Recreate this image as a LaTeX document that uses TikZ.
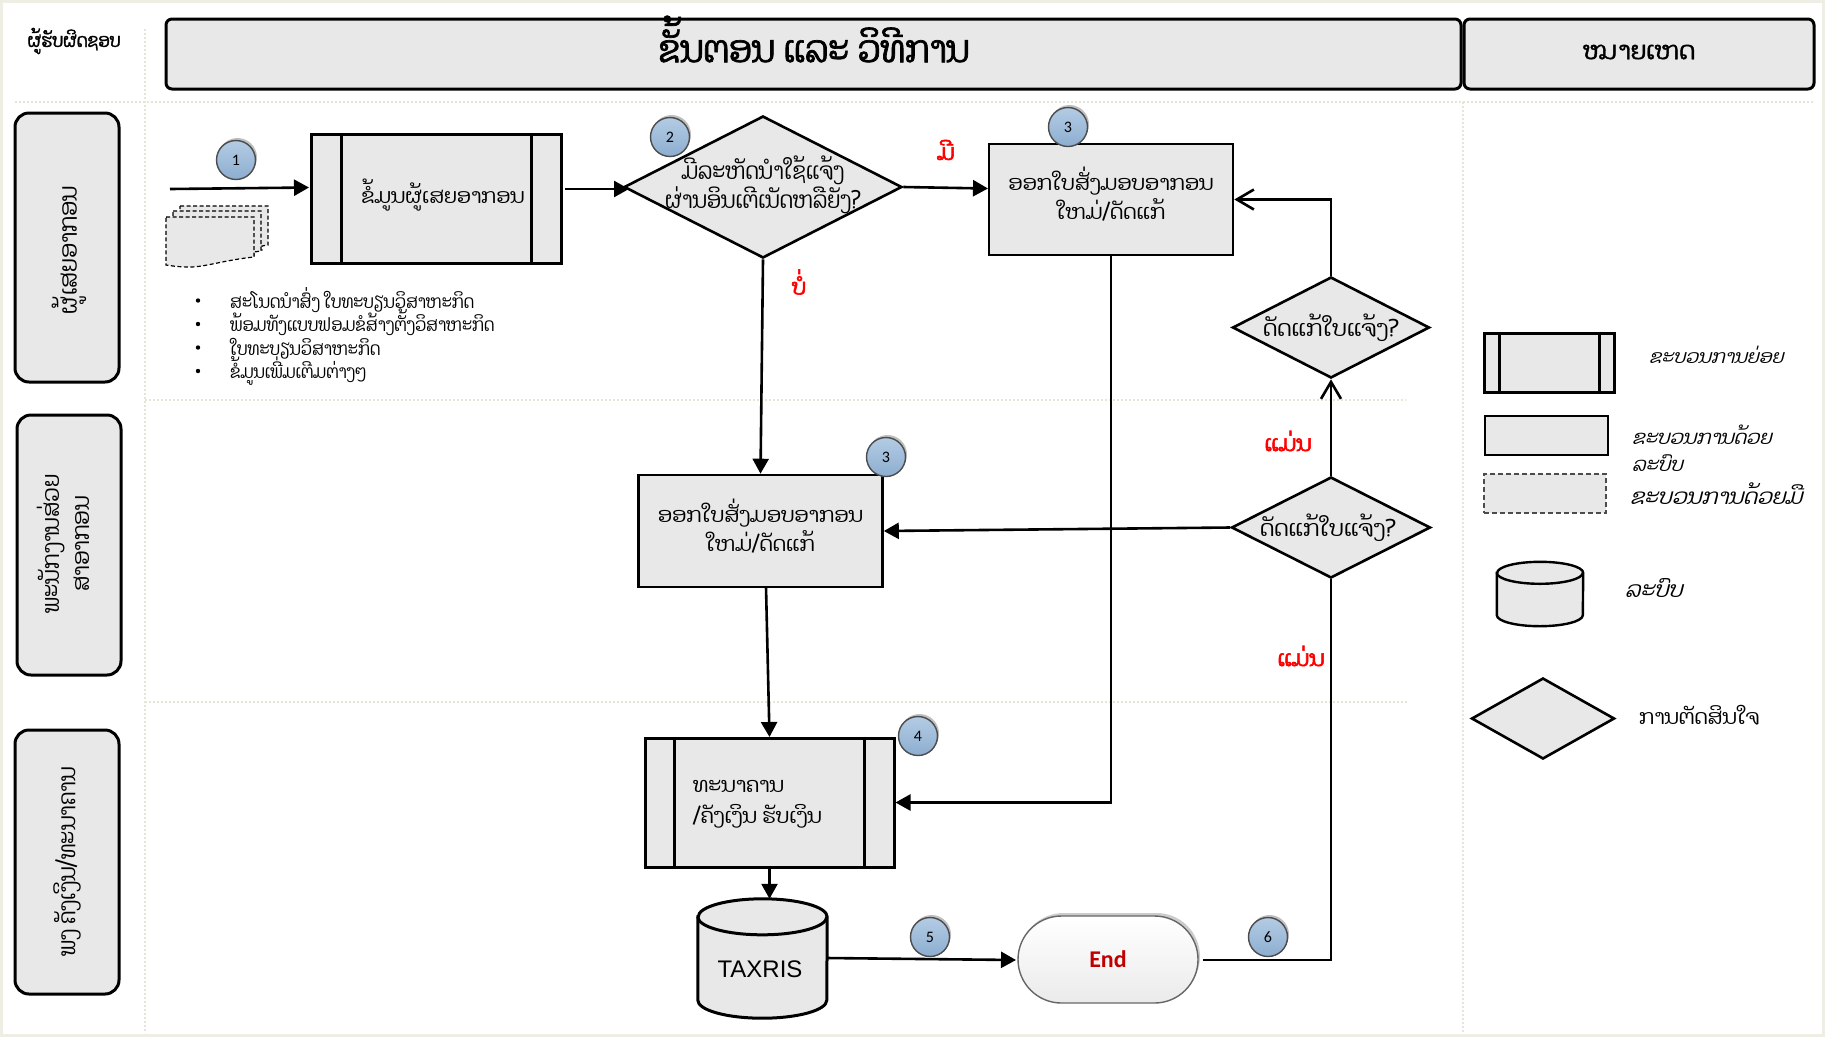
\documentclass[tikz,border=0pt]{standalone}
\usepackage{fontspec}
\setmainfont[Script=Lao]{Dhyana}
\newfontfamily\laon[Script=Lao,FakeStretch=0.88]{Dhyana}
\newfontfamily\laoit[Script=Lao,FakeSlant=0.25]{Dhyana}
\newfontfamily\laobf[Script=Lao,FakeBold=1.5]{Dhyana}
\newfontfamily\laobn[Script=Lao,FakeBold=1.8,FakeStretch=0.88]{Dhyana}
\newfontfamily\laored[Script=Lao,FakeBold=2.6]{Dhyana}
\newfontfamily\lat{Liberation Sans}
\newfontfamily\carl{Carlito}
\usetikzlibrary{arrows.meta,shapes.geometric,shapes.misc,shadows,calc}
\definecolor{boxfill}{HTML}{E8E8E8}
\definecolor{frameC}{HTML}{EFEEE4}
\definecolor{gridC}{HTML}{E6E6D8}
\definecolor{numA}{HTML}{B4CCE4}
\definecolor{numB}{HTML}{8CADD0}
\definecolor{endred}{HTML}{C00000}
\newcommand{\fs}[2]{\fontsize{#1}{#2}\selectfont}
% #1 node name, #2 rim height, #3 half width (pt), #4 line width
\newcommand{\drumshape}[4]{%
 \draw[draw=black,fill=boxfill,line width=#4]
   ($(#1.north west)+(0,#2)$) -- ($(#1.south west)+(0,-#2)$)
   arc[start angle=180,end angle=360,x radius=#3pt,y radius=#2pt]
   -- ($(#1.north east)+(0,#2)$)
   arc[start angle=0,end angle=180,x radius=#3pt,y radius=#2pt] -- cycle;
 \draw[line width=#4] ($(#1.north west)+(0,#2)$)
   arc[start angle=180,end angle=360,x radius=#3pt,y radius=#2pt];
}
\tikzset{
 base/.style={draw=black,fill=boxfill,line width=2.6,inner sep=0,align=center},
 head/.style={base,rounded corners=6,line width=3},
 lane/.style={base,rounded corners=14,line width=3},
 lanetext/.style={rotate=90,inner sep=0,align=center},
 procbox/.style={base},
 subproc/.style={base,line width=3},
 decide/.style={base,diamond},
 drum/.style={inner sep=0},
 boxtext/.style={inner sep=0,align=center},
 numdot/.style={circle,draw=black!70,line width=1.4,top color=numA,bottom color=numB,inner sep=0,minimum size=39,font=\carl\fs{16}{18},drop shadow={shadow xshift=1.5,shadow yshift=-2.5,opacity=.25,fill=black}},
 redtag/.style={text=red,font=\laored\fs{22}{24},inner sep=0},
 legtext/.style={font=\laoit\fs{20}{27},inner sep=0,anchor=west,align=left},
 plaintext/.style={inner sep=0,anchor=base west},
 flow/.style={line width=2.6,-{Triangle[width=16,length=15]}},
 openflow/.style={line width=2.6,-{Straight Barb[length=17,width=20,line width=2.6]}},
 plainflow/.style={line width=2.6},
 grid/.style={draw=gridC,line width=2,dash pattern=on 2 off 2},
 paper/.style={draw=black,fill=boxfill,line width=1.2,dash pattern=on 4 off 2.5},
}
\begin{document}
\begin{tikzpicture}[x=1pt,y=-1pt]
\useasboundingbox (0,0) rectangle (1825,1037);
\fill[white] (0,0) rectangle (1825,1037);
\draw[frameC,line width=3] (1.5,1.5) rectangle (1823.5,1035.5);
% grid
\draw[grid] (15,102) -- (1814,102);
\draw[grid] (145,29) -- (145,1033);
\draw[grid] (1463,102) -- (1463,1033);
\draw[grid] (145,400) -- (1406,400);
\draw[grid] (145,702) -- (1408,702);
% header
\node[boxtext,font=\laobn\fs{19}{22}] (resp) at (74,41) {ຜູ້ຮັບຜິດຊອບ};
\node[head,minimum width=1295,minimum height=70] (title) at (813.5,54) {};
\node[boxtext,font=\laobn\fs{38}{42}] (titlet) at (814,39) {ຂັ້ນຕອນ ແລະ ວິທີການ};
\node[head,minimum width=350,minimum height=70] (note) at (1639,54) {};
\node[boxtext,font=\laobf\fs{25}{28}] (notet) at (1639,52) {ໝາຍເຫດ};
% lanes
\node[lane,minimum height=269,minimum width=104] (lane1) at (67,247.5) {};
\node[lanetext,font=\laon\fs{25}{30}] (lane1t) at (69,250) {ຜູ້ເສຍອາກອນ};
\node[lane,minimum height=260,minimum width=104] (lane2) at (69,545) {};
\node[lanetext,font=\laon\fs{24}{30}] (lane2t) at (63,544) {ພະນັກງານສ່ວຍ\\ສາອາກອນ};
\node[lane,minimum height=264,minimum width=104] (lane3) at (67,862) {};
\node[lanetext,font=\laon\fs{24}{30}] (lane3t) at (67,862) {ພງ ຄັງເງິນ/ທະນາຄານ};
% papers
\draw[paper] (180,206) -- (268,206) -- (268,245) -- (262,246) -- (262,250) -- (180,250) -- cycle;
\draw[paper] (173,211) -- (261,211) -- (261,251) -- (254,252) -- (254,256) -- (173,256) -- cycle;
\draw[paper] (166,217) -- (254,217) -- (254,257) .. controls (225,260) and (205,267) .. (190,267) .. controls (180,267) and (172,266) .. (166,265) -- cycle;
% process
\node[subproc,minimum width=250,minimum height=129] (p1) at (436,198.5) {};
\draw[line width=3] ([xshift=32]p1.north west) -- ([xshift=32]p1.south west);
\draw[line width=3] ([xshift=-31]p1.north east) -- ([xshift=-31]p1.south east);
\node[boxtext,font=\fs{20.5}{29}] (p1t) at ($(p1)+(7,-3)$) {ຂໍ້ມູນຜູ້ເສຍອາກອນ};
\node[decide,minimum width=278,minimum height=142] (d2) at (763,187) {};
\node[boxtext,font=\laon\fs{23.5}{29}] (d2t) at (763,185) {ມີລະຫັດນຳໃຊ້ແຈ້ງ\\ຜ່ານອິນເຕີເນັດຫລືຍັງ?};
\node[procbox,minimum width=244,minimum height=111] (b3a) at (1111,199.5) {};
\node[boxtext,font=\fs{20.8}{29}] (b3at) at ($(b3a)+(0,-5)$) {ອອກໃບສັ່ງມອບອາກອນ\\ໃຫມ່/ດັດແກ້};
\node[procbox,minimum width=244,minimum height=112] (b3b) at (760.5,531) {};
\node[boxtext,font=\fs{20.8}{29}] (b3bt) at ($(b3b)+(0,-5)$) {ອອກໃບສັ່ງມອບອາກອນ\\ໃຫມ່/ດັດແກ້};
\node[decide,minimum width=197,minimum height=101] (d5) at (1331,327.5) {};
\node[boxtext,font=\fs{22.4}{29}] (d5t) at (d5) {ດັດແກ້ໃບແຈ້ງ?};
\node[decide,minimum width=199,minimum height=101] (d6) at (1331,527.5) {};
\node[boxtext,font=\fs{22.4}{29}] (d6t) at ($(d6)+(-3,0)$) {ດັດແກ້ໃບແຈ້ງ?};
\node[subproc,minimum width=249,minimum height=129] (p4) at (769.5,802.5) {};
\draw[line width=3] ([xshift=31]p4.north west) -- ([xshift=31]p4.south west);
\draw[line width=3] ([xshift=-31]p4.north east) -- ([xshift=-31]p4.south east);
\node[boxtext,align=left,anchor=west,font=\fs{20.8}{29}] (p4t) at (693,804) {ທະນາຄານ\\[2pt]/ຄັງເງິນ ຮັບເງິນ};
\node[drum,minimum width=129,minimum height=119] (db) at (762.5,958.5) {};
\drumshape{db}{18}{64.5}{3}
\node[boxtext,font=\lat\fs{24}{28}] (dbt) at (760,969) {TAXRIS};
\node[rounded rectangle,draw=black!60,line width=1.4,top color=white,bottom color=black!8,minimum width=180,minimum height=87,inner sep=0,text=endred,font=\carl\bfseries\fs{24}{28},drop shadow={shadow xshift=2,shadow yshift=-3,opacity=.2,fill=black}] (endn) at (1108,959.5) {End};
% connectors
\coordinate (s0) at (170,189);
\coordinate (e0) at (309,187.5);
\draw[flow] (s0) -- (e0);
\coordinate (s1) at (565,189);
\coordinate (e1) at (629,189);
\draw[flow] (s1) -- (e1);
\coordinate (e2) at (988,188.5);
\draw[flow] (d2.east) -- (e2);
\draw[flow] (d2.south) -- (b3b.north);
\draw[flow] (b3a.south) |- (p4.east);
\coordinate (s3) at (766,587);
\coordinate (e3) at (769.5,737);
\draw[flow] (s3) -- (e3);
\draw[flow] (p4.south) -- (p4.south |- db.north);
\coordinate (s5) at (827,958);
\coordinate (e5) at (1016,960);
\draw[flow] (s5) -- (e5);
\coordinate (s6) at (1203,960);
\draw[plainflow] (s6) -| (d6.south);
\draw[flow] (d6.west) -- (b3b.east);
\draw[openflow] (d6.north) -- (d5.south);
\draw[openflow] (d5.north) |- (b3a.east);
% numbers
\node[numdot] (n1) at (236,160) {1};
\node[numdot] (n2) at (670,137) {2};
\node[numdot] (n3a) at (1068,127) {3};
\node[numdot] (n3b) at (886,457) {3};
\node[numdot] (n4) at (918,736) {4};
\node[numdot] (n5) at (930,937) {5};
\node[numdot] (n6) at (1268,937) {6};
% red tags
\node[redtag] (t1) at (946,150) {ມີ};
\node[redtag] (t2) at (799,282) {ບໍ່};
\node[redtag] (t3) at (1288,441) {ແມ່ນ};
\node[redtag] (t4) at (1301,656) {ແມ່ນ};
% bullets
\foreach \yy/\tt in {308/ສະໂນດນຳສົ່ງ ໃບທະບຽນວິສາຫະກິດ,331.5/ພ້ອມທັງແບບຟອມຂໍສ້າງຕັ້ງວິສາຫະກິດ,355/ໃບທະບຽນວິສາຫະກິດ,378.5/ຂໍ້ມູນເພີ່ມເຕີມຕ່າງໆ}{
 \fill (198,\yy-7.5) circle (2.2);
 \node[plaintext,font=\laon\fs{18.4}{22}] at (230,\yy) {\tt};
}
% legend
\node[subproc,minimum width=130,minimum height=59] (l1) at (1549,362.5) {};
\draw[line width=3] ([xshift=17]l1.north west) -- ([xshift=17]l1.south west);
\draw[line width=3] ([xshift=-16]l1.north east) -- ([xshift=-16]l1.south east);
\node[procbox,minimum width=123,minimum height=39] (l2) at (1546.5,435.5) {};
\node[base,draw=black!70,line width=1.6,dash pattern=on 5 off 3,minimum width=122,minimum height=39] (l3) at (1545,493.5) {};
\node[drum,minimum width=86,minimum height=64] (l4) at (1540,594) {};
\drumshape{l4}{11}{43}{2.4}
\node[decide,minimum width=143,minimum height=81] (l5) at (1543,718.5) {};
\node[legtext,font=\laoit\fs{18.7}{27}] (lt1) at (1649,355) {ຂະບວນການຍ່ອຍ};
\node[legtext,font=\laoit\fs{19.4}{27}] (lt2) at (1632,448) {ຂະບວນການດ້ວຍ\\ລະບົບ};
\node[legtext,font=\laoit\fs{21.6}{27}] (lt3) at (1630,494) {ຂະບວນການດ້ວຍມື};
\node[legtext,font=\laoit\fs{22}{27}] (lt4) at (1625,588) {ລະບົບ};
\node[inner sep=0,anchor=west,font=\fs{20.6}{24}] (lt5) at (1639,715) {ການຕັດສິນໃຈ};
\end{tikzpicture}
\end{document}
